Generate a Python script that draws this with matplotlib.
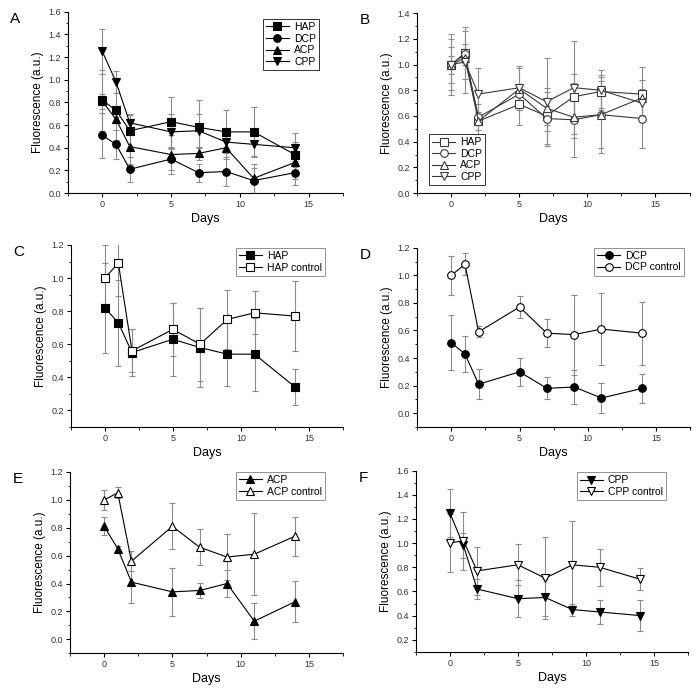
import numpy as np
import matplotlib
matplotlib.use("Agg")
import matplotlib.pyplot as plt
from matplotlib.ticker import MultipleLocator

plt.rcParams['font.family'] = ['Liberation Sans', 'DejaVu Sans']

# sampling days
days = [0, 1, 2, 5, 7, 9, 11, 14]

# treated samples: mean and error
hap = [0.82, 0.73, 0.55, 0.63, 0.58, 0.54, 0.54, 0.34]
hap_err = [0.27, 0.26, 0.14, 0.22, 0.24, 0.19, 0.22, 0.11]
dcp = [0.51, 0.43, 0.21, 0.30, 0.18, 0.19, 0.11, 0.18]
dcp_err = [0.20, 0.13, 0.11, 0.10, 0.08, 0.125, 0.11, 0.105]
acp = [0.81, 0.65, 0.41, 0.34, 0.35, 0.40, 0.13, 0.27]
acp_err = [0.065, 0.02, 0.15, 0.17, 0.055, 0.10, 0.13, 0.145]
cpp = [1.25, 0.98, 0.62, 0.54, 0.55, 0.45, 0.43, 0.40]
cpp_err = [0.20, 0.10, 0.08, 0.155, 0.15, 0.05, 0.10, 0.13]

# controls
hap_c = [1.00, 1.09, 0.56, 0.69, 0.60, 0.75, 0.79, 0.77]
hap_c_err = [0.20, 0.20, 0.13, 0.16, 0.22, 0.18, 0.13, 0.21]
dcp_c = [1.00, 1.08, 0.59, 0.77, 0.58, 0.57, 0.61, 0.58]
dcp_c_err = [0.14, 0.08, 0.04, 0.08, 0.10, 0.29, 0.26, 0.23]
acp_c = [1.00, 1.05, 0.56, 0.81, 0.66, 0.59, 0.61, 0.74]
acp_c_err = [0.07, 0.04, 0.07, 0.165, 0.13, 0.165, 0.295, 0.14]
cpp_c = [1.00, 1.02, 0.77, 0.82, 0.71, 0.82, 0.80, 0.70]
cpp_c_err = [0.24, 0.24, 0.20, 0.17, 0.34, 0.36, 0.155, 0.09]

ERR_COL = '#8c8c8c'


def series(ax, y, err, marker, label, filled=True, col='k'):
    ax.errorbar(days, y, yerr=err, fmt='none', ecolor=ERR_COL,
                elinewidth=0.8, capsize=2, capthick=0.8, zorder=1)
    ax.plot(days, y, '-', color=col, lw=0.8, marker=marker, ms=5.5,
            mfc=col if filled else 'white', mec=col, mew=0.8,
            label=label, zorder=3)


def style(ax, ylim, ymaj, letter):
    ax.set_xlim(-2.5, 17.5)
    ax.set_ylim(*ylim)
    ax.xaxis.set_major_locator(MultipleLocator(5))
    ax.xaxis.set_minor_locator(MultipleLocator(2.5))
    ax.yaxis.set_major_locator(MultipleLocator(ymaj))
    ax.yaxis.set_minor_locator(MultipleLocator(ymaj / 2))
    ax.yaxis.set_major_formatter(matplotlib.ticker.FormatStrFormatter('%.1f'))
    for s in ['top', 'right']:
        ax.spines[s].set_visible(False)
    for s in ['left', 'bottom']:
        ax.spines[s].set_linewidth(0.8)
    ax.tick_params(which='major', direction='out', length=3, width=0.8,
                   labelsize=6.5, pad=2, labelcolor='#333333')
    ax.tick_params(which='minor', direction='out', length=1.8, width=0.6)
    ax.set_xlabel('Days', fontsize=9, labelpad=3)
    ax.set_ylabel('Fluorescence (a.u.)', fontsize=8.5, labelpad=3)
    ax.text(-0.21, 1.0, letter, transform=ax.transAxes, fontsize=11,
            ha='left', va='top')


def legend(ax, loc, anchor, edge='k'):
    lg = ax.legend(loc=loc, bbox_to_anchor=anchor, fontsize=7.5,
                   frameon=True, fancybox=False, handlelength=2.2,
                   handletextpad=0.5, borderpad=0.3, labelspacing=0.15,
                   borderaxespad=0)
    lg.get_frame().set_edgecolor(edge)
    lg.get_frame().set_linewidth(0.7)


fig = plt.figure(figsize=(7, 6.92), dpi=100)

# A
ax = fig.add_axes([0.097, 0.721, 0.393, 0.262])
series(ax, hap, hap_err, 's', 'HAP')
series(ax, dcp, dcp_err, 'o', 'DCP')
series(ax, acp, acp_err, '^', 'ACP')
series(ax, cpp, cpp_err, 'v', 'CPP')
style(ax, (0, 1.6), 0.2, 'A')
legend(ax, 'upper right', (0.913, 0.96))

# B
ax = fig.add_axes([0.596, 0.721, 0.389, 0.260])
g = '#3a3a3a'
series(ax, hap_c, hap_c_err, 's', 'HAP', False, g)
series(ax, dcp_c, dcp_c_err, 'o', 'DCP', False, g)
series(ax, acp_c, acp_c_err, '^', 'ACP', False, g)
series(ax, cpp_c, cpp_c_err, 'v', 'CPP', False, g)
style(ax, (0, 1.4), 0.2, 'B')
legend(ax, 'lower left', (0.044, 0.044))

# C
ax = fig.add_axes([0.101, 0.383, 0.389, 0.263])
series(ax, hap, hap_err, 's', 'HAP')
series(ax, hap_c, hap_c_err, 's', 'HAP control', False)
style(ax, (0.1, 1.2), 0.2, 'C')
legend(ax, 'upper right', (0.934, 0.984), '#777777')

# D
ax = fig.add_axes([0.596, 0.383, 0.390, 0.259])
series(ax, dcp, dcp_err, 'o', 'DCP')
series(ax, dcp_c, dcp_c_err, 'o', 'DCP control', False)
style(ax, (-0.1, 1.2), 0.2, 'D')
legend(ax, 'upper right', (0.978, 1.0), '#777777')

# E
ax = fig.add_axes([0.100, 0.056, 0.390, 0.262])
series(ax, acp, acp_err, '^', 'ACP')
series(ax, acp_c, acp_c_err, '^', 'ACP control', False)
style(ax, (-0.1, 1.2), 0.2, 'E')
legend(ax, 'upper right', (0.934, 1.0), '#777777')

# F
ax = fig.add_axes([0.594, 0.058, 0.389, 0.262])
series(ax, cpp, cpp_err, 'v', 'CPP')
series(ax, cpp_c, cpp_c_err, 'v', 'CPP control', False)
style(ax, (0.1, 1.6), 0.2, 'F')
legend(ax, 'upper right', (0.919, 0.99), '#777777')

fig.savefig('out.png', dpi=100)
